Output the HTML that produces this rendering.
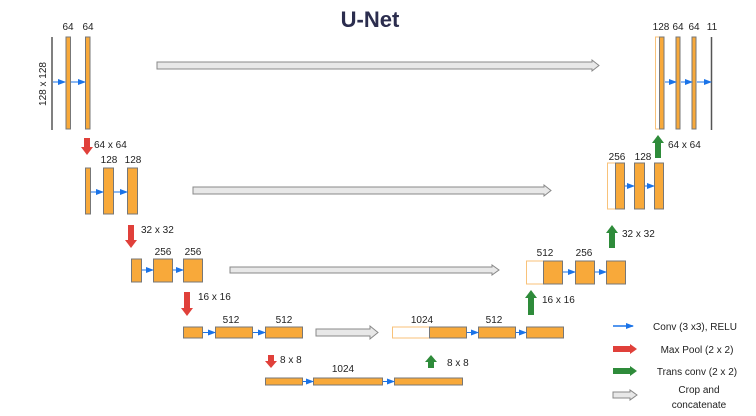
<!DOCTYPE html>
<html><head><meta charset="utf-8"><style>
html,body{margin:0;padding:0;background:#fff;}
svg{display:block;}
text{font-family:"Liberation Sans",sans-serif;fill:#222;font-size:10px;}
.o{fill:#f8a93a;stroke:#777;stroke-width:1;}
.w{fill:#fff;stroke:#f8c27a;stroke-width:1;}
.g{fill:#e8e8e8;stroke:#888;stroke-width:1;}
</style></head><body>
<svg width="756" height="416" viewBox="0 0 756 416" xmlns="http://www.w3.org/2000/svg">
<defs>
<marker id="b" markerWidth="8" markerHeight="6" refX="7" refY="3" orient="auto" markerUnits="userSpaceOnUse"><path d="M0,0 L8,3 L0,6z" fill="#1a73e8"/></marker>
</defs>
<text x="370" y="27" text-anchor="middle" style="font-size:22px;font-weight:bold;fill:#2b2d4e">U-Net</text>

<!-- level 1 down -->
<line x1="52" y1="37" x2="52" y2="130" stroke="#555" stroke-width="1.5"/>
<rect class="o" x="66" y="37" width="4.5" height="92"/>
<rect class="o" x="85.5" y="37" width="4.5" height="92"/>
<text x="68" y="30" text-anchor="middle">64</text><text x="88" y="30" text-anchor="middle">64</text>
<text transform="translate(46,84) rotate(-90)" text-anchor="middle">128 x 128</text>
<line x1="53" y1="82" x2="65" y2="82" stroke="#1a73e8" marker-end="url(#b)"/>
<line x1="71" y1="82" x2="85" y2="82" stroke="#1a73e8" marker-end="url(#b)"/>
<path d="M157,62 H592 V60 L599,65.5 L592,71 V69 H157z" class="g"/>

<!-- red arrows -->
<path d="M84,138 h6 v9 h3 l-6,8 l-6,-8 h3z" fill="#e0403a"/>
<text x="94" y="148">64 x 64</text>
<path d="M128,225 h6 v15 h3 l-6,8 l-6,-8 h3z" fill="#e0403a"/>
<text x="141" y="233">32 x 32</text>
<path d="M184,292 h6 v16 h3 l-6,8 l-6,-8 h3z" fill="#e0403a"/>
<text x="198" y="300">16 x 16</text>
<path d="M268,355 h6 v6 h3 l-6,7 l-6,-7 h3z" fill="#e0403a"/>
<text x="280" y="363">8 x 8</text>

<!-- level 2 -->
<rect class="o" x="85.5" y="168" width="5" height="46"/>
<rect class="o" x="103.5" y="168" width="10" height="46"/>
<rect class="o" x="127.5" y="168" width="10" height="46"/>
<text x="109" y="163" text-anchor="middle">128</text><text x="133" y="163" text-anchor="middle">128</text>
<line x1="91" y1="192" x2="103" y2="192" stroke="#1a73e8" marker-end="url(#b)"/>
<line x1="114" y1="192" x2="127" y2="192" stroke="#1a73e8" marker-end="url(#b)"/>
<path d="M193,187 H544 V185 L551,190.5 L544,196 V194 H193z" class="g"/>

<!-- level 3 -->
<rect class="o" x="131.5" y="259" width="10" height="23"/>
<rect class="o" x="153.5" y="259" width="19" height="23"/>
<rect class="o" x="183.5" y="259" width="19" height="23"/>
<text x="163" y="255" text-anchor="middle">256</text><text x="193" y="255" text-anchor="middle">256</text>
<line x1="142" y1="270" x2="153" y2="270" stroke="#1a73e8" marker-end="url(#b)"/>
<line x1="173" y1="270" x2="183" y2="270" stroke="#1a73e8" marker-end="url(#b)"/>
<path d="M230,267 H492 V265 L499,270 L492,275 V273 H230z" class="g"/>

<!-- level 4 -->
<rect class="o" x="183.5" y="327" width="19" height="11"/>
<rect class="o" x="215.5" y="327" width="37" height="11"/>
<rect class="o" x="265.5" y="327" width="37" height="11"/>
<text x="231" y="323" text-anchor="middle">512</text><text x="284" y="323" text-anchor="middle">512</text>
<line x1="203" y1="332.5" x2="215" y2="332.5" stroke="#1a73e8" marker-end="url(#b)"/>
<line x1="253" y1="332.5" x2="265" y2="332.5" stroke="#1a73e8" marker-end="url(#b)"/>
<path d="M316,329 H370 V326 L378,332.5 L370,339 V336 H316z" class="g"/>

<!-- level 5 -->
<rect class="o" x="265.5" y="378" width="37" height="7"/>
<rect class="o" x="313.5" y="378" width="69" height="7"/>
<rect class="o" x="394.5" y="378" width="68" height="7"/>
<text x="343" y="372" text-anchor="middle">1024</text>
<line x1="303" y1="381.5" x2="313" y2="381.5" stroke="#1a73e8" marker-end="url(#b)"/>
<line x1="383" y1="381.5" x2="394" y2="381.5" stroke="#1a73e8" marker-end="url(#b)"/>

<!-- green arrows -->
<path d="M428,368 h6 v-6 h3 l-6,-7 l-6,7 h3z" fill="#2e8b3a"/>
<text x="447" y="366">8 x 8</text>
<path d="M528,315 h6 v-17 h3 l-6,-8 l-6,8 h3z" fill="#2e8b3a"/>
<text x="542" y="303">16 x 16</text>
<path d="M609,248 h6 v-15 h3 l-6,-8 l-6,8 h3z" fill="#2e8b3a"/>
<text x="622" y="237">32 x 32</text>
<path d="M655,158 h6 v-15 h3 l-6,-8 l-6,8 h3z" fill="#2e8b3a"/>
<text x="668" y="148">64 x 64</text>

<!-- up level 4 -->
<rect class="w" x="392.5" y="327" width="37" height="11"/>
<rect class="o" x="429.5" y="327" width="37" height="11"/>
<rect class="o" x="478.5" y="327" width="37" height="11"/>
<rect class="o" x="526.5" y="327" width="37" height="11"/>
<text x="422" y="323" text-anchor="middle">1024</text><text x="494" y="323" text-anchor="middle">512</text>
<line x1="467" y1="332.5" x2="478" y2="332.5" stroke="#1a73e8" marker-end="url(#b)"/>
<line x1="516" y1="332.5" x2="526" y2="332.5" stroke="#1a73e8" marker-end="url(#b)"/>

<!-- up level 3 -->
<rect class="w" x="526.5" y="261" width="17" height="23"/>
<rect class="o" x="543.5" y="261" width="19" height="23"/>
<rect class="o" x="575.5" y="261" width="19" height="23"/>
<rect class="o" x="606.5" y="261" width="19" height="23"/>
<text x="545" y="256" text-anchor="middle">512</text><text x="584" y="256" text-anchor="middle">256</text>
<line x1="563" y1="272" x2="575" y2="272" stroke="#1a73e8" marker-end="url(#b)"/>
<line x1="595" y1="272" x2="606" y2="272" stroke="#1a73e8" marker-end="url(#b)"/>

<!-- up level 2 -->
<rect class="w" x="607.5" y="163" width="8" height="46"/>
<rect class="o" x="615.5" y="163" width="9" height="46"/>
<rect class="o" x="634.5" y="163" width="10" height="46"/>
<rect class="o" x="654.5" y="163" width="9" height="46"/>
<text x="617" y="160" text-anchor="middle">256</text><text x="643" y="160" text-anchor="middle">128</text>
<line x1="625" y1="186" x2="634" y2="186" stroke="#1a73e8" marker-end="url(#b)"/>
<line x1="645" y1="186" x2="654" y2="186" stroke="#1a73e8" marker-end="url(#b)"/>

<!-- up level 1 -->
<rect class="w" x="655.5" y="37" width="4" height="92"/>
<rect class="o" x="659.5" y="37" width="4.5" height="92"/>
<rect class="o" x="676" y="37" width="4" height="92"/>
<rect class="o" x="692" y="37" width="4" height="92"/>
<line x1="711.5" y1="37" x2="711.5" y2="130" stroke="#555" stroke-width="1.5"/>
<text x="661" y="30" text-anchor="middle">128</text><text x="678" y="30" text-anchor="middle">64</text><text x="694" y="30" text-anchor="middle">64</text><text x="712" y="30" text-anchor="middle">11</text>
<line x1="665" y1="82" x2="676" y2="82" stroke="#1a73e8" marker-end="url(#b)"/>
<line x1="681" y1="82" x2="692" y2="82" stroke="#1a73e8" marker-end="url(#b)"/>
<line x1="697" y1="82" x2="711" y2="82" stroke="#1a73e8" marker-end="url(#b)"/>

<!-- legend -->
<line x1="613" y1="326" x2="633" y2="326" stroke="#1a73e8" stroke-width="1.5" marker-end="url(#b)"/>
<text x="695" y="330" text-anchor="middle">Conv (3 x3), RELU</text>
<path d="M613,346 H630 V344 L637,349 L630,354 V352 H613z" fill="#e0403a"/>
<text x="697" y="353" text-anchor="middle">Max Pool (2 x 2)</text>
<path d="M613,368 H630 V366 L637,371 L630,376 V374 H613z" fill="#2e8b3a"/>
<text x="697" y="375" text-anchor="middle">Trans conv (2 x 2)</text>
<path d="M613,392 H630 V390 L637,395 L630,400 V398 H613z" class="g"/>
<text x="699" y="393" text-anchor="middle">Crop and</text>
<text x="699" y="408" text-anchor="middle">concatenate</text>
</svg>
</body></html>
